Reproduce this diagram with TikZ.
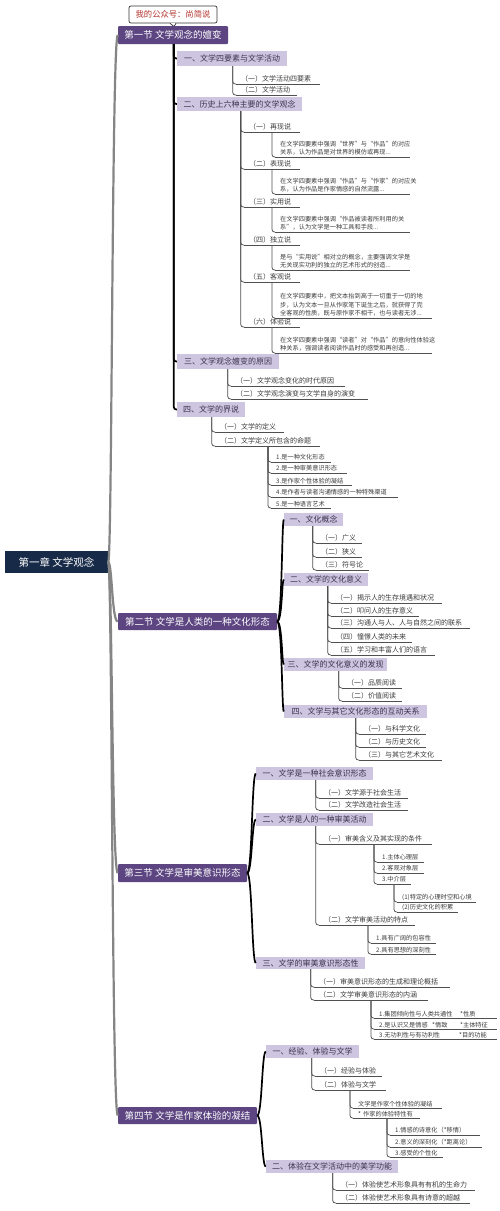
\documentclass[tikz,border=0pt]{standalone}
\usepackage{fontspec}
\setmainfont{Noto Sans CJK SC}
\usetikzlibrary{calc}
\setlength{\parindent}{0pt}
\definecolor{cRoot}{HTML}{172A48}
\definecolor{cSec}{HTML}{5C4581}
\definecolor{cLav}{HTML}{CEC6E0}
\definecolor{cLavTxt}{HTML}{3B3350}
\definecolor{cInk}{HTML}{3C3C3C}
\definecolor{cLine}{HTML}{505050}
\definecolor{cTrunk}{HTML}{858585}
\definecolor{cRed}{HTML}{B2302B}
\newcommand\fsz[2]{\fontsize{#1}{#2}\selectfont}
\newcommand\BX[7][]{%
  \pgfmathsetmacro\bxw{#5-#3}%
  \pgfmathsetmacro\bxh{#6-#4}%
  \pgfmathsetmacro\bxx{(#3+#5)/2}%
  \pgfmathsetmacro\bxy{-(#4+#6)/2}%
  \node[#1,minimum width=\bxw pt,minimum height=\bxh pt,inner sep=0pt] (#2) at (\bxx,\bxy) {#7};}
\newcommand\ULn[6][]{%
  \pgfmathsetmacro\ulw{#5-#3-10}%
  \node[ulnode,#1,text width=\ulw pt] (#2) at (#3,-#4) {#6};}
\begin{document}
\begin{tikzpicture}[x=1pt,y=1pt,
  rootbox/.style={fill=cRoot,text=white,font=\fsz{10.5}{12}},
  secbox/.style={fill=cSec,text=white,font=\fsz{9.5}{11},rounded corners=1pt},
  l2box/.style={fill=cLav,text=cLavTxt,font=\fsz{8}{9.5}},
  callout/.style={draw=black!80,line width=0.7pt,fill=white,text=cRed,font=\fsz{8.3}{10},rounded corners=2pt},
  ulline/.style={draw=cLine,line width=0.75pt},
  ulnode/.style={anchor=south west,inner xsep=5pt,inner ysep=1.3pt,align=left,text=cInk,font=\fsz{7}{8.5},
    append after command={(\tikzlastnode.south west) edge[ulline] (\tikzlastnode.south east)}},
  itm/.style={font=\fsz{6.2}{8}},
  dsc/.style={font=\fsz{6.2}{8.6}},
  lk/.style={draw=cLine,line width=0.75pt,rounded corners=2.5pt},
  br/.style={draw=black,line width=1.7pt},
  trunkline/.style={draw=cTrunk,line width=2.2pt}]
\useasboundingbox (0,0) rectangle (500,-1211);
\fill[white] (0,0) rectangle (500,-1211);

% ---------- root, callout, sections ----------
\BX[rootbox]{root}{5}{551}{108}{573}{第一章 文学观念}
\BX[callout]{cal}{129}{6}{217}{23}{我的公众号：尚简说}
\coordinate (caltip) at (174,-26.5);
\fill[white] ([xshift=-3pt,yshift=0.6pt]cal.south) -- (caltip) -- ([xshift=3pt,yshift=0.6pt]cal.south) -- cycle;
\draw[black!80,line width=0.7pt] ([xshift=-3pt]cal.south) -- (caltip) -- ([xshift=3pt]cal.south);

\BX[secbox]{s1}{118}{26}{228}{44}{第一节 文学观念的嬗变}
\BX[secbox]{s2}{118}{613}{277}{630}{第二节 文学是人类的一种文化形态}
\BX[secbox]{s3}{118}{864}{247}{882}{第三节 文学是审美意识形态}
\BX[secbox]{s4}{118}{1107}{257}{1124}{第四节 文学是作家体验的凝结}

\foreach \s in {s1,s2,s3,s4}
  \draw[trunkline] (root.east) .. controls ([xshift=4pt]root.east) and ([xshift=-6pt]\s.west) .. (\s.west);

% ---------- level 2 boxes ----------
\BX[l2box]{a1}{177}{51}{287}{66}{一、文学四要素与文学活动}
\BX[l2box]{a2}{177}{97}{302}{111}{二、历史上六种主要的文学观念}
\BX[l2box]{a3}{177}{354}{279}{369}{三、文学观念嬗变的原因}
\BX[l2box]{a4}{177}{402}{245}{417}{四、文学的界说}
\BX[l2box]{b1}{284}{513}{343}{526}{一、文化概念}
\BX[l2box]{b2}{284}{573}{368}{586}{二、文学的文化意义}
\BX[l2box]{b3}{284}{658}{387}{671}{三、文学的文化意义的发现}
\BX[l2box]{b4}{284}{705}{427}{718}{四、文学与其它文化形态的互动关系}
\BX[l2box]{c1}{256}{767}{373}{780}{一、文学是一种社会意识形态}
\BX[l2box]{c2}{256}{813}{373}{826}{二、文学是人的一种审美活动}
\BX[l2box]{c3}{256}{957}{365}{969}{三、文学的审美意识形态性}
\BX[l2box]{d1}{266}{1045}{359}{1058}{一、经验、体验与文学}
\BX[l2box]{d2}{266}{1160}{398}{1173}{二、体验在文学活动中的美学功能}

\foreach \c in {a1,a2,a3,a4}
  \draw[br,rounded corners=2.5pt] ([xshift=56pt]s1.south west) |- (\c.west);
\foreach \c in {b1,b2,b3,b4}
  \draw[br] (s2.east) .. controls ([xshift=5pt]s2.east) and ([xshift=-2pt]\c.west) .. (\c.west);
\foreach \c in {c1,c2,c3}
  \draw[br] (s3.east) .. controls ([xshift=5pt]s3.east) and ([xshift=-4pt]\c.west) .. (\c.west);
\foreach \c in {d1,d2}
  \draw[br] (s4.east) .. controls ([xshift=5pt]s4.east) and ([xshift=-4pt]\c.west) .. (\c.west);

% ---------- section 1 ----------
\ULn{a1x}{236}{84}{320}{（一）文学活动四要素}
\ULn{a1y}{236}{95}{297}{（二）文学活动}
\foreach \c in {a1x,a1y} \draw[lk] ([xshift=56pt]a1.south west) |- (\c.south west);

\ULn{k1}{244}{132}{300}{（一）再现说}
\ULn{k2}{244}{169}{300}{（二）表现说}
\ULn{k3}{244}{207}{300}{（三）实用说}
\ULn{k4}{244}{245}{300}{（四）独立说}
\ULn{k5}{244}{282}{300}{（五）客观说}
\ULn{k6}{244}{327}{300}{（六）体验说}
\foreach \c in {k1,k2,k3,k4,k5,k6} \draw[lk] ([xshift=64pt]a2.south west) |- (\c.south west);

\ULn[dsc]{e1}{275}{157}{410}{在文学四要素中强调“世界”与“作品”的对应\\关系，认为作品是对世界的模仿或再现...}
\ULn[dsc]{e2}{275}{194}{410}{在文学四要素中强调“作品”与“作家”的对应关\\系，认为作品是作家情感的自然流露...}
\ULn[dsc]{e3}{275}{232}{410}{在文学四要素中强调“作品被读者所利用的关\\系”，认为文学是一种工具和手段...}
\ULn[dsc]{e4}{275}{270}{410}{是与“实用说”相对立的概念，主要强调文学是\\无关现实功利的独立的艺术形式的创造...}
\ULn[dsc]{e5}{275}{318}{432}{在文学四要素中，把文本抬到高于一切重于一切的地\\步，认为文本一旦从作家笔下诞生之后，就获得了完\\全客观的性质，既与原作家不相干，也与读者无涉...}
\ULn[dsc]{e6}{275}{353}{432}{在文学四要素中强调“读者”对“作品”的意向性体验这\\种关系，强调读者阅读作品时的感受和再创造...}
\draw[lk] ([xshift=28pt]k1.south west) |- (e1.south west);
\draw[lk] ([xshift=28pt]k2.south west) |- (e2.south west);
\draw[lk] ([xshift=28pt]k3.south west) |- (e3.south west);
\draw[lk] ([xshift=28pt]k4.south west) |- (e4.south west);
\draw[lk] ([xshift=28pt]k5.south west) |- (e5.south west);
\draw[lk] ([xshift=28pt]k6.south west) |- (e6.south west);

\ULn{a3x}{231}{386}{345}{（一）文学观念变化的时代原因}
\ULn{a3y}{231}{399}{368}{（二）文学观念演变与文学自身的演变}
\foreach \c in {a3x,a3y} \draw[lk] ([xshift=51pt]a3.south west) |- (\c.south west);

\ULn{a4x}{215}{432}{284}{（一）文学的定义}
\ULn{a4y}{215}{446}{320}{（二）文学定义所包含的命题}
\foreach \c in {a4x,a4y} \draw[lk] ([xshift=35pt]a4.south west) |- (\c.south west);

\ULn[itm]{i1}{271}{462}{331}{1.是一种文化形态}
\ULn[itm]{i2}{271}{473}{347}{2.是一种审美意识形态}
\ULn[itm]{i3}{271}{485}{352}{3.是作家个性体验的凝结}
\ULn[itm]{i4}{271}{497}{398}{4.是作者与读者沟通情感的一种特殊渠道}
\ULn[itm]{i5}{271}{508}{331}{5.是一种语言艺术}
\foreach \c in {i1,i2,i3,i4,i5} \draw[lk] ([xshift=53pt]a4y.south west) |- (\c.south west);

% ---------- section 2 ----------
\ULn{b1x}{316}{543}{362}{（一）广义}
\ULn{b1y}{316}{557}{362}{（二）狭义}
\ULn{b1z}{316}{570}{369}{（三）符号论}
\foreach \c in {b1x,b1y,b1z} \draw[lk] ([xshift=29pt]b1.south west) |- (\c.south west);

\ULn{b2a}{331}{603}{442}{（一）揭示人的生存境遇和状况}
\ULn{b2b}{331}{616}{419}{（二）叩问人的生存意义}
\ULn{b2c}{331}{628}{470}{（三）沟通人与人、人与自然之间的联系}
\ULn{b2d}{331}{642}{412}{（四）憧憬人类的未来}
\ULn{b2e}{331}{655}{435}{（五）学习和丰富人们的语言}
\foreach \c in {b2a,b2b,b2c,b2d,b2e} \draw[lk] ([xshift=44pt]b2.south west) |- (\c.south west);

\ULn{b3a}{342}{688}{402}{（一）品质阅读}
\ULn{b3b}{342}{701}{402}{（二）价值阅读}
\foreach \c in {b3a,b3b} \draw[lk] ([xshift=55pt]b3.south west) |- (\c.south west);

\ULn{b4a}{359}{734}{426}{（一）与科学文化}
\ULn{b4b}{359}{747}{426}{（二）与历史文化}
\ULn{b4c}{359}{760}{442}{（三）与其它艺术文化}
\foreach \c in {b4a,b4b,b4c} \draw[lk] ([xshift=72pt]b4.south west) |- (\c.south west);

% ---------- section 3 ----------
\ULn{c1a}{319}{798}{408}{（一）文学源于社会生活}
\ULn{c1b}{319}{810}{408}{（二）文学改造社会生活}
\foreach \c in {c1a,c1b} \draw[lk] ([xshift=60pt]c1.south west) |- (\c.south west);

\ULn{c2a}{319}{844}{432}{（一）审美含义及其实现的条件}
\ULn{c2b}{319}{925}{415}{（二）文学审美活动的特点}
\foreach \c in {c2a,c2b} \draw[lk] ([xshift=60pt]c2.south west) |- (\c.south west);

\ULn[itm]{m1}{377}{862}{424}{1.主体心理层}
\ULn[itm]{m2}{377}{873}{424}{2.客观对象层}
\ULn[itm]{m3}{377}{884}{411}{3.中介层}
\foreach \c in {m1,m2,m3} \draw[lk] ([xshift=55pt]c2a.south west) |- (\c.south west);

\ULn[itm]{m31}{397}{902}{476}{(1)特定的心理时空和心境}
\ULn[itm]{m32}{397}{912}{458}{(2)历史文化的积累}
\foreach \c in {m31,m32} \draw[lk] ([xshift=17pt]m3.south west) |- (\c.south west);

\ULn[itm]{n1}{371}{943}{436}{1.具有广阔的包容性}
\ULn[itm]{n2}{371}{954}{436}{2.具有思想的深刻性}
\foreach \c in {n1,n2} \draw[lk] ([xshift=49pt]c2b.south west) |- (\c.south west);

\ULn{c3a}{314}{987}{450}{（一）审美意识形态的生成和理论概括}
\ULn{c3b}{314}{1000}{428}{（二）文学审美意识形态的内涵}
\foreach \c in {c3a,c3b} \draw[lk] ([xshift=55pt]c3.south west) |- (\c.south west);

\ULn[itm]{q1}{374}{1018}{497}{\makebox[81pt][l]{1.集团倾向性与人类共通性}*性质}
\ULn[itm]{q2}{374}{1029}{497}{\makebox[53pt][l]{2.是认识又是情感}\makebox[28pt][l]{*情致}*主体特征}
\ULn[itm]{q3}{374}{1039}{497}{\makebox[80pt][l]{3.无功利性与有功利性}*目的功能}
\foreach \c in {q1,q2,q3} \draw[lk] ([xshift=57pt]c3b.south west) |- (\c.south west);

% ---------- section 4 ----------
\ULn{d1a}{315}{1076}{382}{（一）经验与体验}
\ULn{d1b}{315}{1090}{386}{（二）体验与文学}
\foreach \c in {d1a,d1b} \draw[lk] ([xshift=46pt]d1.south west) |- (\c.south west);

\ULn[itm]{r1}{353}{1108}{442}{文学是作家个性体验的凝结}
\ULn[itm]{r2}{353}{1118}{420}{* 作家的体验特性有}
\foreach \c in {r1,r2} \draw[lk] ([xshift=35pt]d1b.south west) |- (\c.south west);

\ULn[itm]{r21}{390}{1135}{480}{1.情感的诗意化（*移情）}
\ULn[itm]{r22}{390}{1147}{482}{2.意义的深刻化（*距离论）}
\ULn[itm]{r23}{390}{1157}{443}{3.感受的个性化}
\foreach \c in {r21,r22,r23} \draw[lk] ([xshift=34pt]r2.south west) |- (\c.south west);

\ULn{d2a}{336}{1190}{475}{（一）体验使艺术形象具有有机的生命力}
\ULn{d2b}{336}{1203}{470}{（二）体验使艺术形象具有诗意的超越}
\foreach \c in {d2a,d2b} \draw[lk] ([xshift=67pt]d2.south west) |- (\c.south west);
\end{tikzpicture}
\end{document}
